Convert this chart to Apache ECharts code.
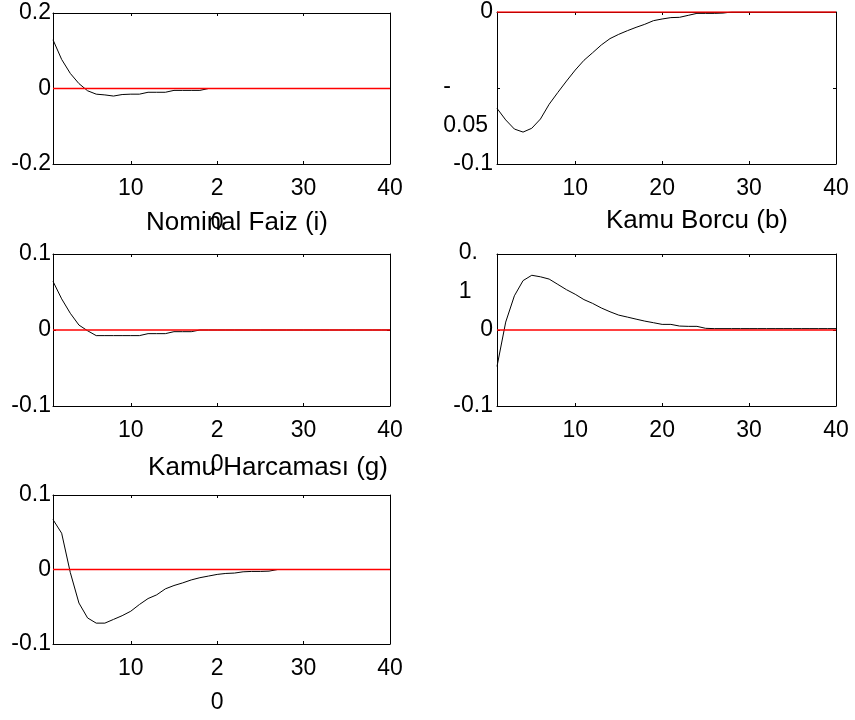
<!DOCTYPE html>
<html>
<head>
<meta charset="utf-8">
<script src="https://cdn.jsdelivr.net/npm/echarts@6/dist/echarts.min.js"></script>
<style>
html,body{margin:0;padding:0;background:#fff;}
#chart{width:855px;height:720px;}
</style>
</head>
<body>
<div id="chart"></div>
<script>
// ---- data ----
const periods = [1,2,3,4,5,6,7,8,9,10,11,12,13,14,15,16,17,18,19,20,21,22,23,24,25,26,27,28,29,30,31,32,33,34,35,36,37,38,39,40];

const topLeft = [0.129, 0.077, 0.040, 0.013, -0.006, -0.015, -0.017, -0.020, -0.016, -0.015,
  -0.015, -0.010, -0.010, -0.010, -0.005, -0.005, -0.005, -0.005, 0, 0,
  0, 0, 0, 0, 0, 0, 0, 0, 0, 0,
  0, 0, 0, 0, 0, 0, 0, 0, 0, 0];

const topRight = [-0.0634, -0.071, -0.077, -0.079, -0.0765, -0.0704, -0.0607, -0.0529, -0.0454, -0.0382,
  -0.0318, -0.0268, -0.0217, -0.0175, -0.0147, -0.0123, -0.0101, -0.0081, -0.0057, -0.0046,
  -0.0037, -0.0035, -0.0022, -0.0009, -0.0009, -0.0009, -0.0007, 0, 0, 0,
  0, 0, 0, 0, 0, 0, 0, 0, 0, 0];

const nominalFaiz = [0.064, 0.041, 0.022, 0.0065, -0.001, -0.0074, -0.0074, -0.0074, -0.0074, -0.0074,
  -0.0074, -0.0048, -0.0048, -0.0048, -0.0022, -0.0022, -0.0022, 0, 0, 0,
  0, 0, 0, 0, 0, 0, 0, 0, 0, 0,
  0, 0, 0, 0, 0, 0, 0, 0, 0, 0];

const kamuBorcu = [-0.048, 0.0104, 0.045, 0.065, 0.072, 0.070, 0.067, 0.060, 0.053, 0.047,
  0.040, 0.035, 0.029, 0.024, 0.0196, 0.017, 0.0143, 0.0117, 0.0096, 0.0074,
  0.0074, 0.0052, 0.0048, 0.0048, 0.0022, 0.0018, 0.0018, 0.0018, 0.0018, 0.0018,
  0.0018, 0.0018, 0.0018, 0.0018, 0.0018, 0.0018, 0.0018, 0.0018, 0.0018, 0.0018];

const kamuHarcamasi = [0.067, 0.0487, -0.004, -0.045, -0.065, -0.072, -0.072, -0.067, -0.062, -0.056,
  -0.047, -0.039, -0.034, -0.026, -0.0215, -0.018, -0.014, -0.011, -0.0088, -0.0066,
  -0.0053, -0.0048, -0.0031, -0.0026, -0.0026, -0.0022, 0, 0, 0, 0,
  0, 0, 0, 0, 0, 0, 0, 0, 0, 0];

// steady-state reference line (red)
const zeroLine = [0, 0];
const zeroLineX = [1, 40];

const xTicks = [10, 20, 30, 40];
const xLabelsWrapped = ['10', '2\n0', '30', '40'];
const xLabelsPlain = ['10', '20', '30', '40'];

const yTicks1 = [-0.2, 0, 0.2];   const yLabels1 = ['-0.2', '0', '0.2'];
const yTicks2 = [-0.1, -0.05, 0]; const yLabels2 = ['-0.1', '{t|-}\n{s|0.05}', '0'];
const yTicks3 = [-0.1, 0, 0.1];   const yLabels3 = ['-0.1', '0', '0.1'];
const yTicks4 = [-0.1, 0, 0.1];   const yLabels4 = ['-0.1', '0', '{t|0.}\n{s|1}'];
const yTicks5 = [-0.1, 0, 0.1];   const yLabels5 = ['-0.1', '0', '0.1'];

const titles = ['Nominal Faiz (i)', 'Kamu Borcu (b)', 'Kamu Harcaması (g)'];

// ---- layout ----
const FONT = "'Liberation Sans', Arial, sans-serif";
const panels = [
  {grid:{left:53, top:13, width:337, height:151}, data: topLeft,       yTicks: yTicks1, yLabels: yLabels1, min:-0.2, max:0.2, xLabels: xLabelsWrapped, yMargin:2},
  {grid:{left:497, top:12, width:339, height:152}, data: topRight,     yTicks: yTicks2, yLabels: yLabels2, min:-0.1, max:0,   xLabels: xLabelsPlain,   yMargin:4},
  {grid:{left:53, top:254, width:337, height:152}, data: nominalFaiz,  yTicks: yTicks3, yLabels: yLabels3, min:-0.1, max:0.1, xLabels: xLabelsWrapped, yMargin:2},
  {grid:{left:497, top:254, width:339, height:152}, data: kamuBorcu,   yTicks: yTicks4, yLabels: yLabels4, min:-0.1, max:0.1, xLabels: xLabelsPlain,   yMargin:4},
  {grid:{left:53, top:495, width:337, height:152}, data: kamuHarcamasi, yTicks: yTicks5, yLabels: yLabels5, min:-0.1, max:0.1, xLabels: xLabelsWrapped, yMargin:2}
];

function axisLine() { return {show:true, onZero:false, lineStyle:{color:'#000', width:1}}; }
function tick(vals) { return {show:true, inside:true, length:3, customValues:vals, lineStyle:{color:'#000', width:1}}; }
const grids = [], xAxes = [], yAxes = [], series = [];

panels.forEach((p, i) => {
  grids.push(Object.assign({containLabel:false, show:false}, p.grid));
  xAxes.push({
    type:'value', gridIndex:i, position:'bottom', min:1, max:40,
    axisLine: axisLine(),
    axisTick: tick(xTicks),
    axisLabel:{show:true, customValues:xTicks, margin:8, color:'#000', fontSize:23, fontFamily:FONT, lineHeight:34,
      formatter: v => { const k = xTicks.indexOf(v); return k >= 0 ? p.xLabels[k] : ''; }},
    splitLine:{show:false}
  });
  xAxes.push({
    type:'value', gridIndex:i, position:'top', min:1, max:40,
    axisLine: axisLine(),
    axisTick: tick(xTicks),
    axisLabel:{show:false},
    splitLine:{show:false}
  });
  yAxes.push({
    type:'value', gridIndex:i, position:'left', min:p.min, max:p.max,
    axisLine: axisLine(),
    axisTick: tick(p.yTicks),
    axisLabel:{show:true, customValues:p.yTicks, margin:p.yMargin, color:'#000', fontSize:23, fontFamily:FONT,
      formatter: v => { let k = p.yTicks.findIndex(t => Math.abs(t - v) < 1e-9); return k >= 0 ? p.yLabels[k] : ''; },
      rich:{
        t:{fontSize:23, fontFamily:FONT, color:'#000', lineHeight:76, align:'left', padding:[0, (i===3?15:0), 0, 0]},
        s:{fontSize:23, fontFamily:FONT, color:'#000', lineHeight:2, align:'left', padding:[0, (i===1?5:0), 0, 0]}
      }},
    splitLine:{show:false}
  });
  yAxes.push({
    type:'value', gridIndex:i, position:'right', min:p.min, max:p.max,
    axisLine: axisLine(),
    axisTick: tick(p.yTicks),
    axisLabel:{show:false},
    splitLine:{show:false}
  });
  series.push({
    type:'line', xAxisIndex:2*i, yAxisIndex:2*i,
    data: periods.map((x, k) => [x, p.data[k]]),
    showSymbol:false, symbol:'none', silent:true,
    lineStyle:{color:'#000', width:1},
    itemStyle:{color:'#000'},
    z:3
  });
  series.push({
    type:'line', xAxisIndex:2*i, yAxisIndex:2*i,
    data: zeroLineX.map((x, k) => [x, zeroLine[k]]),
    showSymbol:false, symbol:'none', silent:true,
    lineStyle:{color:'#ff0000', width:1.3},
    itemStyle:{color:'#ff0000'},
    zlevel:1, z:4
  });
});

const titlePos = [
  {x:237, y:223},
  {x:697, y:221},
  {x:268, y:468}
];

const graphic = titles.map((t, k) => ({
  type:'text', x:titlePos[k].x, y:titlePos[k].y, z:10, silent:true,
  style:{text:t, font:"26px 'Liberation Sans', Arial, sans-serif", fill:'#000',
    align:'center', verticalAlign:'middle', textAlign:'center', textVerticalAlign:'middle'}
}));

const chart = echarts.init(document.getElementById('chart'), null, {renderer:'canvas'});
chart.setOption({
  animation:false,
  backgroundColor:'#fff',
  grid:grids,
  xAxis:xAxes,
  yAxis:yAxes,
  series:series,
  graphic:graphic
});
</script>
</body>
</html>
